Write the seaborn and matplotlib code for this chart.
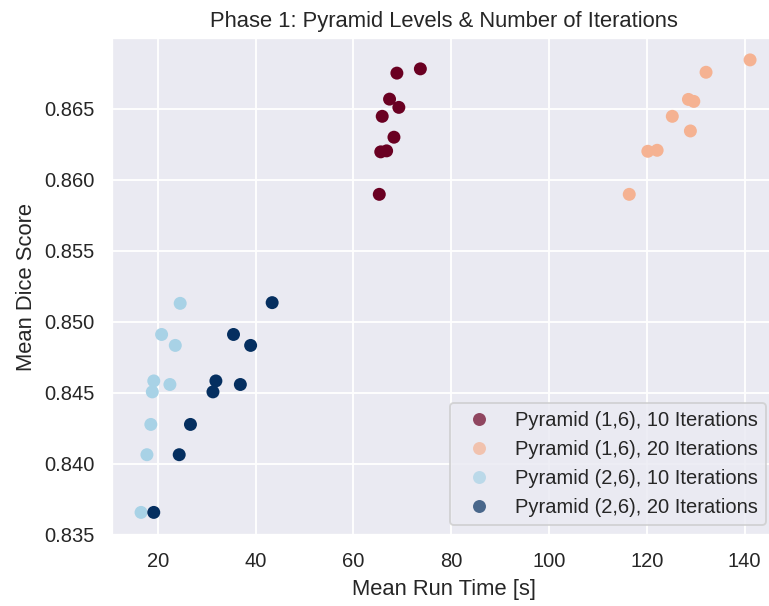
import numpy as np
import pandas as pd
import matplotlib
matplotlib.use("Agg")
import matplotlib.pyplot as plt
from matplotlib.lines import Line2D
import seaborn as sns

# ---- data ----
groups = ["Pyramid (1,6), 10 Iterations", "Pyramid (1,6), 20 Iterations",
          "Pyramid (2,6), 10 Iterations", "Pyramid (2,6), 20 Iterations"]
colors = ["#6a0022", "#f5b292", "#a8d2e6", "#052f60"]

time_p16_10 = [68.9, 73.7, 67.4, 69.3, 65.9, 68.3, 65.6, 66.8, 65.3]
dice_p16_10 = [0.8675, 0.8678, 0.86567, 0.86509, 0.86446, 0.86299, 0.86196, 0.86203, 0.85897]

time_p16_20 = [141.1, 132.1, 128.5, 129.6, 125.2, 128.9, 120.2, 122.1, 116.4]
dice_p16_20 = [0.86843, 0.86756, 0.86565, 0.86551, 0.86446, 0.86343, 0.86200, 0.86207, 0.85897]

time_p26_10 = [24.6, 20.8, 23.6, 19.2, 22.5, 18.9, 18.6, 17.8, 16.6]
dice_p26_10 = [0.8513, 0.84911, 0.84834, 0.84584, 0.84559, 0.84507, 0.84278, 0.84065, 0.83659]

time_p26_20 = [43.4, 35.5, 39.0, 31.9, 36.9, 31.3, 26.7, 24.4, 19.2]
dice_p26_20 = [0.85135, 0.84911, 0.84834, 0.84584, 0.84559, 0.84507, 0.84278, 0.84065, 0.83659]

times = [time_p16_10, time_p16_20, time_p26_10, time_p26_20]
dices = [dice_p16_10, dice_p16_20, dice_p26_10, dice_p26_20]

rows = []
for g, t, d in zip(groups, times, dices):
    for ti, di in zip(t, d):
        rows.append({"time": ti, "dice": di, "group": g})
df = pd.DataFrame(rows)

sns.set_theme(style="darkgrid")
plt.rcParams['font.family'] = ['Liberation Sans', 'DejaVu Sans']

DPI = 132
fig = plt.figure(figsize=(769 / DPI, 606 / DPI), dpi=DPI)
ax = fig.add_axes([111.7 / 769, 1 - 535 / 606, (776 - 111.7) / 769, (535 - 38.3) / 606])

palette = dict(zip(groups, colors))
sns.scatterplot(data=df, x="time", y="dice", hue="group", palette=palette,
                s=50, linewidth=0, alpha=1.0, legend=False, ax=ax)

ax.set_xlim(10.6, 146.4)
ax.set_ylim(0.83505, 0.86995)
ax.set_xticks([20, 40, 60, 80, 100, 120, 140])
ax.set_yticks([0.835, 0.840, 0.845, 0.850, 0.855, 0.860, 0.865])

ax.set_xlabel("Mean Run Time [s]")
ax.set_ylabel("Mean Dice Score")
ax.set_title("Phase 1: Pyramid Levels & Number of Iterations")

handles = [Line2D([0], [0], marker="o", linestyle="", markersize=np.sqrt(50),
                  markerfacecolor=c, markeredgewidth=0, alpha=0.7, label=g)
           for g, c in zip(groups, colors)]
ax.legend(handles=handles, loc="lower right")

fig.savefig("out.png", dpi=DPI)
